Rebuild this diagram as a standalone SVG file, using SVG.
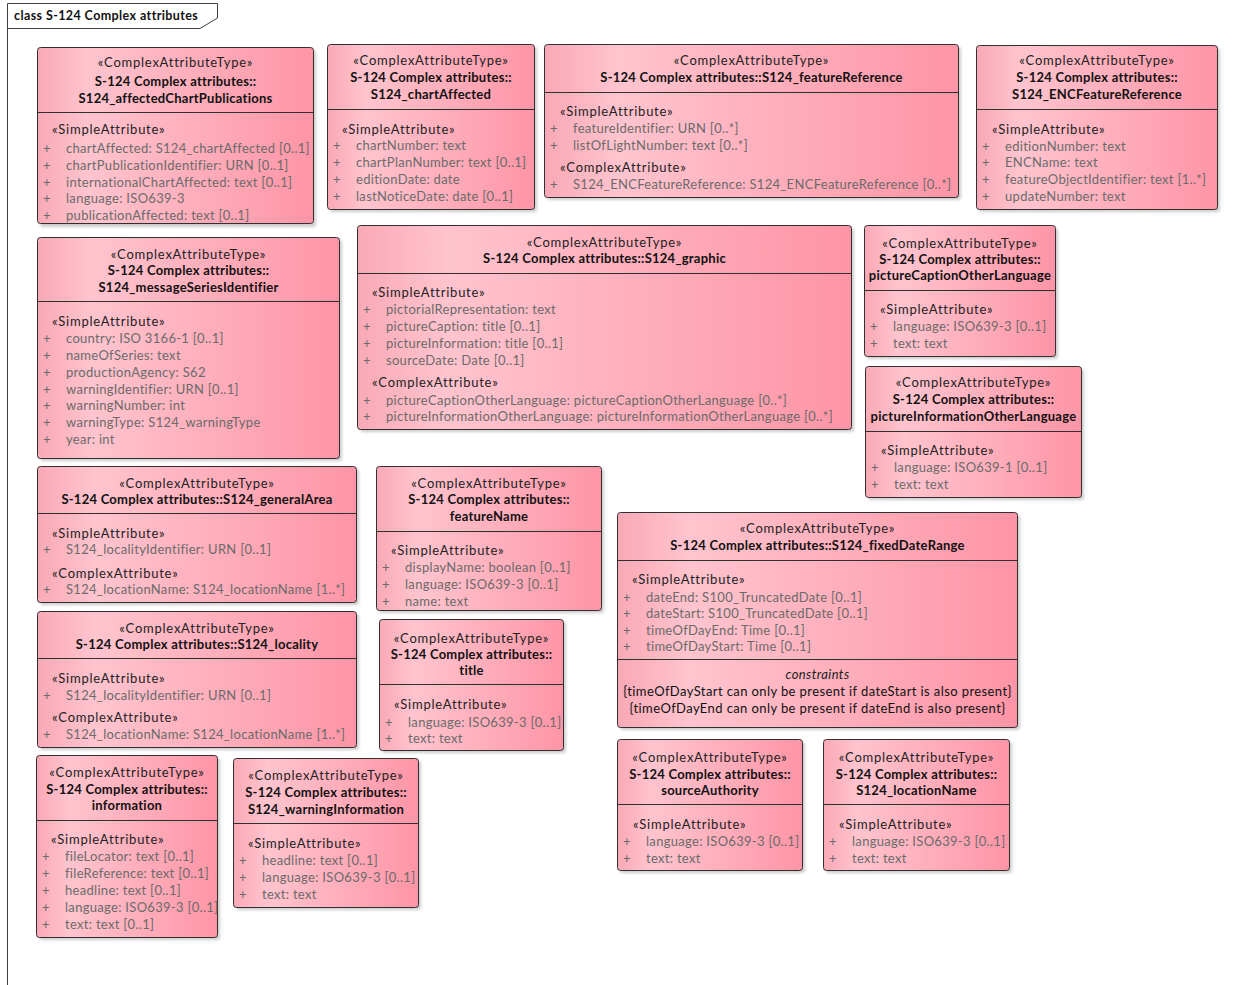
<svg xmlns="http://www.w3.org/2000/svg" width="1244" height="985" viewBox="0 0 1244 985">
<style>
text{font-family:Lato,"Liberation Sans",sans-serif;font-size:13px}
.st{fill:#222;text-anchor:middle;letter-spacing:0.75px}
.ti{fill:#111;font-weight:bold;text-anchor:middle;letter-spacing:0.25px}
.sa{fill:#222;letter-spacing:0.75px}
.at{fill:#6b6b6b;letter-spacing:0.3px}
.pl{fill:#6b6b6b}
.cn{fill:#111;text-anchor:middle;letter-spacing:0.4px}
.ci{fill:#222;text-anchor:middle;font-style:italic;letter-spacing:0.4px}
.box{fill:url(#g);stroke:#303030;stroke-width:1}
.sh{fill:#000;opacity:0.2;filter:url(#blur)}
.dv{stroke:#303030;stroke-width:1}
.frame{fill:none;stroke:#404040;stroke-width:1}
.ftitle{fill:#111;font-weight:bold;font-size:12.5px;letter-spacing:0.4px}
</style>
<defs>
<linearGradient id="g" x1="0" y1="0" x2="1" y2="0">
<stop offset="0" stop-color="#f9a9b6"/>
<stop offset="0.18" stop-color="#ffc4ce"/>
<stop offset="1" stop-color="#fe95a6"/>
</linearGradient>
<filter id="blur" x="-10%" y="-10%" width="120%" height="120%"><feGaussianBlur stdDeviation="1.5"/></filter>
</defs>
<rect width="1244" height="985" fill="#fff"/>
<g id="frame">
<path class="frame" d="M7.5,985 V3.5 H217.5 V18 L200,28.5 H7.5"/>
<text class="ftitle" x="14" y="20">class S-124 Complex attributes</text>
</g>
<g id="connectors"/>

<g id="n1">
<rect class="sh" x="40" y="50" width="276" height="177" rx="3"/>
<rect class="box" x="37.5" y="47.5" width="276" height="176" rx="3"/>
<line class="dv" x1="37.5" y1="112.5" x2="313.5" y2="112.5"/>
<text class="st" x="175.5" y="67">«ComplexAttributeType»</text>
<text class="ti" x="175.5" y="86">S-124 Complex attributes::</text>
<text class="ti" x="175.5" y="102.5">S124_affectedChartPublications</text>
<text class="sa" x="52" y="134">«SimpleAttribute»</text>
<text class="pl" x="43" y="152.5">+</text><text class="at" x="66" y="152.5">chartAffected: S124_chartAffected [0..1]</text>
<text class="pl" x="43" y="169.5">+</text><text class="at" x="66" y="169.5">chartPublicationIdentifier: URN [0..1]</text>
<text class="pl" x="43" y="186.5">+</text><text class="at" x="66" y="186.5">internationalChartAffected: text [0..1]</text>
<text class="pl" x="43" y="202.5">+</text><text class="at" x="66" y="202.5">language: ISO639-3</text>
<text class="pl" x="43" y="219.5">+</text><text class="at" x="66" y="219.5">publicationAffected: text [0..1]</text>
</g>

<g id="n2">
<rect class="sh" x="330" y="47" width="207" height="165" rx="3"/>
<rect class="box" x="327.5" y="44.5" width="207" height="165" rx="3"/>
<line class="dv" x1="327.5" y1="109.5" x2="534.5" y2="109.5"/>
<text class="st" x="431" y="64.5">«ComplexAttributeType»</text>
<text class="ti" x="431" y="81.5">S-124 Complex attributes::</text>
<text class="ti" x="431" y="98.5">S124_chartAffected</text>
<text class="sa" x="342" y="133.5">«SimpleAttribute»</text>
<text class="pl" x="333" y="150">+</text><text class="at" x="356" y="150">chartNumber: text</text>
<text class="pl" x="333" y="167">+</text><text class="at" x="356" y="167">chartPlanNumber: text [0..1]</text>
<text class="pl" x="333" y="183.5">+</text><text class="at" x="356" y="183.5">editionDate: date</text>
<text class="pl" x="333" y="200.5">+</text><text class="at" x="356" y="200.5">lastNoticeDate: date [0..1]</text>
</g>

<g id="n3">
<rect class="sh" x="547" y="47" width="414" height="153" rx="3"/>
<rect class="box" x="544.5" y="44.5" width="414" height="153" rx="3"/>
<line class="dv" x1="544.5" y1="92.5" x2="958.5" y2="92.5"/>
<text class="st" x="751.5" y="64.5">«ComplexAttributeType»</text>
<text class="ti" x="751.5" y="81.5">S-124 Complex attributes::S124_featureReference</text>
<text class="sa" x="560" y="115.5">«SimpleAttribute»</text>
<text class="pl" x="550" y="132.5">+</text><text class="at" x="573" y="132.5">featureIdentifier: URN [0..*]</text>
<text class="pl" x="550" y="149.5">+</text><text class="at" x="573" y="149.5">listOfLightNumber: text [0..*]</text>
<text class="sa" x="560" y="172">«ComplexAttribute»</text>
<text class="pl" x="550" y="189">+</text><text class="at" x="573" y="189">S124_ENCFeatureReference: S124_ENCFeatureReference [0..*]</text>
</g>

<g id="n4">
<rect class="sh" x="979" y="48" width="241" height="164" rx="3"/>
<rect class="box" x="976.5" y="45.5" width="241" height="164" rx="3"/>
<line class="dv" x1="976.5" y1="109.5" x2="1217.5" y2="109.5"/>
<text class="st" x="1097" y="65">«ComplexAttributeType»</text>
<text class="ti" x="1097" y="81.5">S-124 Complex attributes::</text>
<text class="ti" x="1097" y="98.5">S124_ENCFeatureReference</text>
<text class="sa" x="992" y="133.5">«SimpleAttribute»</text>
<text class="pl" x="982" y="150.5">+</text><text class="at" x="1005" y="150.5">editionNumber: text</text>
<text class="pl" x="982" y="167">+</text><text class="at" x="1005" y="167">ENCName: text</text>
<text class="pl" x="982" y="183.5">+</text><text class="at" x="1005" y="183.5">featureObjectIdentifier: text [1..*]</text>
<text class="pl" x="982" y="200.5">+</text><text class="at" x="1005" y="200.5">updateNumber: text</text>
</g>

<g id="n5">
<rect class="sh" x="40" y="240" width="302" height="221" rx="3"/>
<rect class="box" x="37.5" y="237.5" width="302" height="221" rx="3"/>
<line class="dv" x1="37.5" y1="301.5" x2="339.5" y2="301.5"/>
<text class="st" x="188.5" y="258.5">«ComplexAttributeType»</text>
<text class="ti" x="188.5" y="275">S-124 Complex attributes::</text>
<text class="ti" x="188.5" y="292">S124_messageSeriesIdentifier</text>
<text class="sa" x="52" y="325.5">«SimpleAttribute»</text>
<text class="pl" x="43" y="342.5">+</text><text class="at" x="66" y="342.5">country: ISO 3166-1 [0..1]</text>
<text class="pl" x="43" y="360">+</text><text class="at" x="66" y="360">nameOfSeries: text</text>
<text class="pl" x="43" y="377">+</text><text class="at" x="66" y="377">productionAgency: S62</text>
<text class="pl" x="43" y="393.5">+</text><text class="at" x="66" y="393.5">warningIdentifier: URN [0..1]</text>
<text class="pl" x="43" y="410">+</text><text class="at" x="66" y="410">warningNumber: int</text>
<text class="pl" x="43" y="427">+</text><text class="at" x="66" y="427">warningType: S124_warningType</text>
<text class="pl" x="43" y="444">+</text><text class="at" x="66" y="444">year: int</text>
</g>

<g id="n6">
<rect class="sh" x="360" y="228" width="494" height="204" rx="3"/>
<rect class="box" x="357.5" y="225.5" width="494" height="204" rx="3"/>
<line class="dv" x1="357.5" y1="273.5" x2="851.5" y2="273.5"/>
<text class="st" x="604.5" y="246.5">«ComplexAttributeType»</text>
<text class="ti" x="604.5" y="263">S-124 Complex attributes::S124_graphic</text>
<text class="sa" x="372" y="296.5">«SimpleAttribute»</text>
<text class="pl" x="363" y="314">+</text><text class="at" x="386" y="314">pictorialRepresentation: text</text>
<text class="pl" x="363" y="331">+</text><text class="at" x="386" y="331">pictureCaption: title [0..1]</text>
<text class="pl" x="363" y="348">+</text><text class="at" x="386" y="348">pictureInformation: title [0..1]</text>
<text class="pl" x="363" y="365">+</text><text class="at" x="386" y="365">sourceDate: Date [0..1]</text>
<text class="sa" x="372" y="387">«ComplexAttribute»</text>
<text class="pl" x="363" y="404.5">+</text><text class="at" x="386" y="404.5">pictureCaptionOtherLanguage: pictureCaptionOtherLanguage [0..*]</text>
<text class="pl" x="363" y="421">+</text><text class="at" x="386" y="421">pictureInformationOtherLanguage: pictureInformationOtherLanguage [0..*]</text>
</g>

<g id="n7">
<rect class="sh" x="867" y="228" width="191" height="131" rx="3"/>
<rect class="box" x="864.5" y="225.5" width="191" height="131" rx="3"/>
<line class="dv" x1="864.5" y1="290.5" x2="1055.5" y2="290.5"/>
<text class="st" x="960" y="247.5">«ComplexAttributeType»</text>
<text class="ti" x="960" y="263.5">S-124 Complex attributes::</text>
<text class="ti" x="960" y="280">pictureCaptionOtherLanguage</text>
<text class="sa" x="880" y="314">«SimpleAttribute»</text>
<text class="pl" x="870" y="331">+</text><text class="at" x="893" y="331">language: ISO639-3 [0..1]</text>
<text class="pl" x="870" y="348">+</text><text class="at" x="893" y="348">text: text</text>
</g>

<g id="n8">
<rect class="sh" x="868" y="369" width="216" height="131" rx="3"/>
<rect class="box" x="865.5" y="366.5" width="216" height="131" rx="3"/>
<line class="dv" x1="865.5" y1="431.5" x2="1081.5" y2="431.5"/>
<text class="st" x="973.5" y="386.5">«ComplexAttributeType»</text>
<text class="ti" x="973.5" y="404">S-124 Complex attributes::</text>
<text class="ti" x="973.5" y="421">pictureInformationOtherLanguage</text>
<text class="sa" x="881" y="454.5">«SimpleAttribute»</text>
<text class="pl" x="871" y="471.5">+</text><text class="at" x="894" y="471.5">language: ISO639-1 [0..1]</text>
<text class="pl" x="871" y="489">+</text><text class="at" x="894" y="489">text: text</text>
</g>

<g id="n9">
<rect class="sh" x="40" y="469" width="319" height="136" rx="3"/>
<rect class="box" x="37.5" y="466.5" width="319" height="136" rx="3"/>
<line class="dv" x1="37.5" y1="513.5" x2="356.5" y2="513.5"/>
<text class="st" x="197" y="487.5">«ComplexAttributeType»</text>
<text class="ti" x="197" y="504">S-124 Complex attributes::S124_generalArea</text>
<text class="sa" x="52" y="537.5">«SimpleAttribute»</text>
<text class="pl" x="43" y="554">+</text><text class="at" x="66" y="554">S124_localityIdentifier: URN [0..1]</text>
<text class="sa" x="52" y="577.5">«ComplexAttribute»</text>
<text class="pl" x="43" y="593.5">+</text><text class="at" x="66" y="593.5">S124_locationName: S124_locationName [1..*]</text>
</g>

<g id="n10">
<rect class="sh" x="40" y="614" width="319" height="136" rx="3"/>
<rect class="box" x="37.5" y="611.5" width="319" height="136" rx="3"/>
<line class="dv" x1="37.5" y1="658.5" x2="356.5" y2="658.5"/>
<text class="st" x="197" y="632.5">«ComplexAttributeType»</text>
<text class="ti" x="197" y="649">S-124 Complex attributes::S124_locality</text>
<text class="sa" x="52" y="683">«SimpleAttribute»</text>
<text class="pl" x="43" y="700">+</text><text class="at" x="66" y="700">S124_localityIdentifier: URN [0..1]</text>
<text class="sa" x="52" y="722">«ComplexAttribute»</text>
<text class="pl" x="43" y="739">+</text><text class="at" x="66" y="739">S124_locationName: S124_locationName [1..*]</text>
</g>

<g id="n11">
<rect class="sh" x="379" y="469" width="225" height="144" rx="3"/>
<rect class="box" x="376.5" y="466.5" width="225" height="144" rx="3"/>
<line class="dv" x1="376.5" y1="531.5" x2="601.5" y2="531.5"/>
<text class="st" x="489" y="487.5">«ComplexAttributeType»</text>
<text class="ti" x="489" y="504">S-124 Complex attributes::</text>
<text class="ti" x="489" y="521">featureName</text>
<text class="sa" x="391" y="555">«SimpleAttribute»</text>
<text class="pl" x="382" y="571.5">+</text><text class="at" x="405" y="571.5">displayName: boolean [0..1]</text>
<text class="pl" x="382" y="589">+</text><text class="at" x="405" y="589">language: ISO639-3 [0..1]</text>
<text class="pl" x="382" y="605.5">+</text><text class="at" x="405" y="605.5">name: text</text>
</g>

<g id="n12">
<rect class="sh" x="382" y="622" width="184" height="131" rx="3"/>
<rect class="box" x="379.5" y="619.5" width="184" height="131" rx="3"/>
<line class="dv" x1="379.5" y1="684.5" x2="563.5" y2="684.5"/>
<text class="st" x="471.5" y="642.5">«ComplexAttributeType»</text>
<text class="ti" x="471.5" y="659">S-124 Complex attributes::</text>
<text class="ti" x="471.5" y="675">title</text>
<text class="sa" x="394" y="709">«SimpleAttribute»</text>
<text class="pl" x="385" y="726.5">+</text><text class="at" x="408" y="726.5">language: ISO639-3 [0..1]</text>
<text class="pl" x="385" y="742.5">+</text><text class="at" x="408" y="742.5">text: text</text>
</g>

<g id="n13">
<rect class="sh" x="620" y="515" width="400" height="215" rx="3"/>
<rect class="box" x="617.5" y="512.5" width="400" height="215" rx="3"/>
<line class="dv" x1="617.5" y1="560.5" x2="1017.5" y2="560.5"/>
<line class="dv" x1="617.5" y1="659.5" x2="1017.5" y2="659.5"/>
<text class="st" x="817.5" y="533">«ComplexAttributeType»</text>
<text class="ti" x="817.5" y="550">S-124 Complex attributes::S124_fixedDateRange</text>
<text class="sa" x="632" y="584">«SimpleAttribute»</text>
<text class="pl" x="623" y="601.5">+</text><text class="at" x="646" y="601.5">dateEnd: S100_TruncatedDate [0..1]</text>
<text class="pl" x="623" y="618">+</text><text class="at" x="646" y="618">dateStart: S100_TruncatedDate [0..1]</text>
<text class="pl" x="623" y="635">+</text><text class="at" x="646" y="635">timeOfDayEnd: Time [0..1]</text>
<text class="pl" x="623" y="651">+</text><text class="at" x="646" y="651">timeOfDayStart: Time [0..1]</text>
<text class="ci" x="817.5" y="678.5">constraints</text>
<text class="cn" x="817.5" y="696">{timeOfDayStart can only be present if dateStart is also present}</text>
<text class="cn" x="817.5" y="712.5">{timeOfDayEnd can only be present if dateEnd is also present}</text>
</g>

<g id="n14">
<rect class="sh" x="39" y="758" width="181" height="182" rx="3"/>
<rect class="box" x="36.5" y="755.5" width="181" height="182" rx="3"/>
<line class="dv" x1="36.5" y1="820.5" x2="217.5" y2="820.5"/>
<text class="st" x="127" y="777">«ComplexAttributeType»</text>
<text class="ti" x="127" y="793.5">S-124 Complex attributes::</text>
<text class="ti" x="127" y="809.5">information</text>
<text class="sa" x="51" y="843.5">«SimpleAttribute»</text>
<text class="pl" x="42" y="861">+</text><text class="at" x="65" y="861">fileLocator: text [0..1]</text>
<text class="pl" x="42" y="878">+</text><text class="at" x="65" y="878">fileReference: text [0..1]</text>
<text class="pl" x="42" y="895">+</text><text class="at" x="65" y="895">headline: text [0..1]</text>
<text class="pl" x="42" y="911.5">+</text><text class="at" x="65" y="911.5">language: ISO639-3 [0..1]</text>
<text class="pl" x="42" y="928.5">+</text><text class="at" x="65" y="928.5">text: text [0..1]</text>
</g>

<g id="n15">
<rect class="sh" x="236" y="761" width="185" height="149" rx="3"/>
<rect class="box" x="233.5" y="758.5" width="185" height="149" rx="3"/>
<line class="dv" x1="233.5" y1="823.5" x2="418.5" y2="823.5"/>
<text class="st" x="326" y="780">«ComplexAttributeType»</text>
<text class="ti" x="326" y="797">S-124 Complex attributes::</text>
<text class="ti" x="326" y="813.5">S124_warningInformation</text>
<text class="sa" x="248" y="848">«SimpleAttribute»</text>
<text class="pl" x="239" y="865">+</text><text class="at" x="262" y="865">headline: text [0..1]</text>
<text class="pl" x="239" y="882">+</text><text class="at" x="262" y="882">language: ISO639-3 [0..1]</text>
<text class="pl" x="239" y="898.5">+</text><text class="at" x="262" y="898.5">text: text</text>
</g>

<g id="n16">
<rect class="sh" x="620" y="742" width="185" height="131" rx="3"/>
<rect class="box" x="617.5" y="739.5" width="185" height="131" rx="3"/>
<line class="dv" x1="617.5" y1="804.5" x2="802.5" y2="804.5"/>
<text class="st" x="710" y="761.5">«ComplexAttributeType»</text>
<text class="ti" x="710" y="778.5">S-124 Complex attributes::</text>
<text class="ti" x="710" y="795">sourceAuthority</text>
<text class="sa" x="633" y="829">«SimpleAttribute»</text>
<text class="pl" x="623" y="846">+</text><text class="at" x="646" y="846">language: ISO639-3 [0..1]</text>
<text class="pl" x="623" y="863">+</text><text class="at" x="646" y="863">text: text</text>
</g>

<g id="n17">
<rect class="sh" x="826" y="742" width="186" height="131" rx="3"/>
<rect class="box" x="823.5" y="739.5" width="186" height="131" rx="3"/>
<line class="dv" x1="823.5" y1="804.5" x2="1009.5" y2="804.5"/>
<text class="st" x="916.5" y="761.5">«ComplexAttributeType»</text>
<text class="ti" x="916.5" y="778.5">S-124 Complex attributes::</text>
<text class="ti" x="916.5" y="795">S124_locationName</text>
<text class="sa" x="839" y="829">«SimpleAttribute»</text>
<text class="pl" x="829" y="846">+</text><text class="at" x="852" y="846">language: ISO639-3 [0..1]</text>
<text class="pl" x="829" y="863">+</text><text class="at" x="852" y="863">text: text</text>
</g>
</svg>
